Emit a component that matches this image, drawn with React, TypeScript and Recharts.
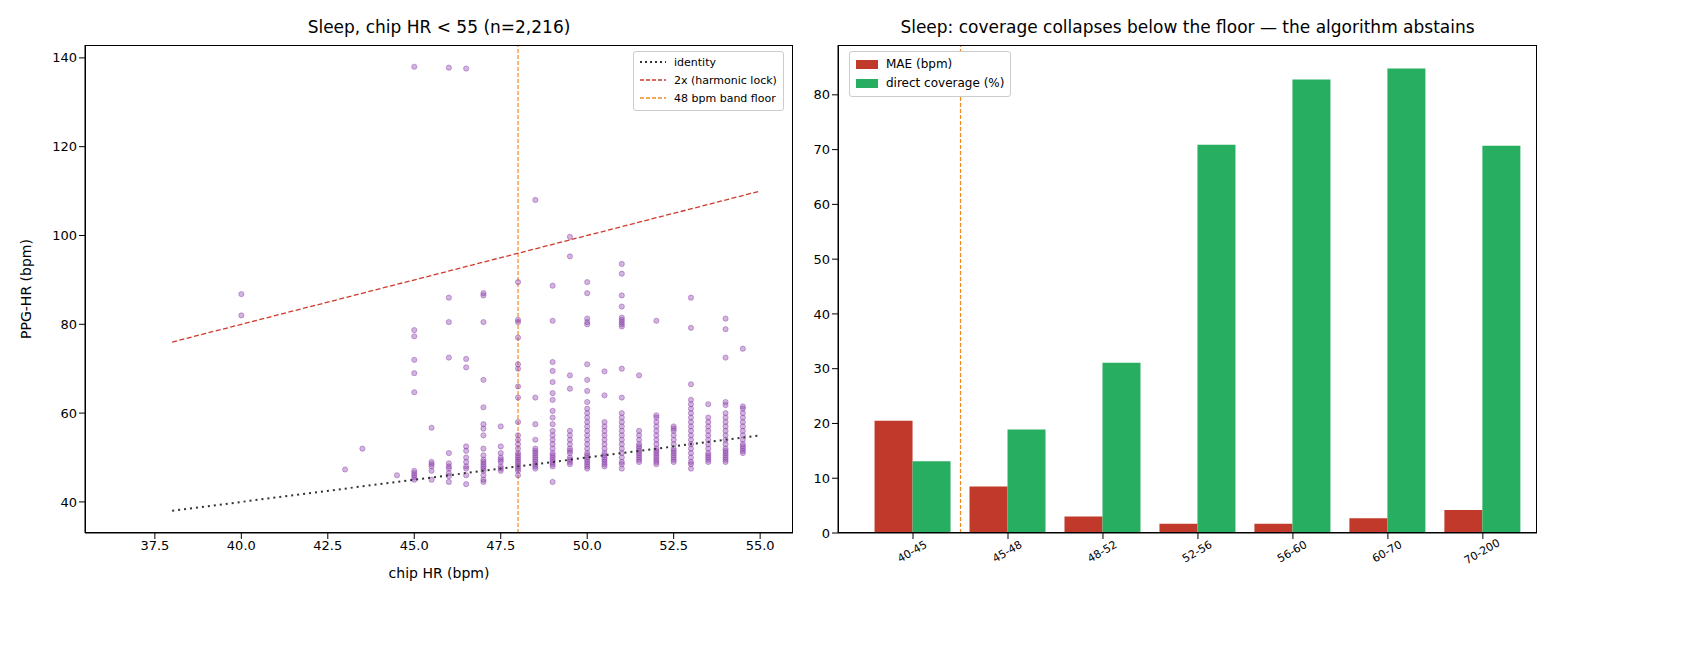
import {
  ScatterChart,
  Scatter,
  XAxis,
  YAxis,
  ReferenceLine,
  BarChart,
  Bar,
} from "recharts";

// chip HR column -> PPG-HR readings
const sleepColumns: [number, number[]][] = [
  [40, [86.8, 82]],
  [43, [47.3]],
  [43.5, [52]],
  [44.5, [46]],
  [45, [138, 78.7, 77.3, 72, 69, 64.7, 47, 46.5, 46, 45.5, 45]],
  [45.5, [56.7, 49, 48.5, 48, 47, 45]],
  [46, [137.8, 86, 80.5, 72.5, 51, 48.7, 48, 47.5, 46.5, 45.8, 44.5]],
  [46.5, [137.6, 72.2, 70.3, 52.5, 51.5, 50, 49, 48, 47.5, 46, 44]],
  [47, [87, 86.5, 80.5, 67.5, 61.3, 57.5, 56.5, 55, 52, 50.5, 49.5, 49, 48.5, 48, 47.5, 47, 46, 45, 44.5]],
  [47.5, [57, 52.5, 51, 50, 49.5, 49, 48, 47.5, 47]],
  [48, [89.5, 81, 80.5, 77, 71, 70, 66, 63.5, 58, 55, 54, 53, 52, 51, 50.5, 50, 49.5, 49, 48.5, 48, 47.5, 47, 46]],
  [48.5, [108, 63.5, 57.5, 54, 52, 51.5, 51, 50.5, 50, 49.5, 49, 48.5, 48, 47.5]],
  [49, [88.7, 80.8, 71.5, 69.5, 67, 64.5, 63, 60.5, 59, 57.5, 56, 55, 54, 53, 52, 51, 50.5, 50, 49.5, 49, 48.5, 48, 44.5]],
  [49.5, [99.7, 95.3, 68.5, 65.5, 56, 55, 54, 53, 52, 51.5, 51, 50, 49.5, 49, 48.5]],
  [50, [89.5, 87, 81.3, 80.5, 80, 71, 67.5, 65, 62.5, 61, 60, 59, 58, 57, 56, 55, 54, 53, 52, 51, 50.5, 50, 49.5, 49, 48.5, 48, 47.5]],
  [50.5, [69.4, 64, 58, 57, 56, 55, 54, 53, 52, 51, 50.5, 50, 49.5, 49, 48.5, 48]],
  [51, [93.6, 91.4, 86.5, 84, 81.5, 81, 80.5, 80, 79.5, 70, 63.5, 60, 59, 58, 57, 56, 55, 54, 53, 52, 51, 50, 49, 48.5, 47.5]],
  [51.5, [68.5, 56, 55, 54, 53, 52.5, 52, 51.5, 51, 50.5, 50, 49.5, 49]],
  [52, [80.8, 59.5, 59, 58, 57, 56, 55, 54, 53, 52, 51.5, 51, 50.5, 50, 49.5, 49, 48.5]],
  [52.5, [57, 56.5, 56, 55, 54, 53, 52, 51.5, 51, 50.5, 50, 49.5, 49]],
  [53, [86, 79.2, 66.5, 63, 62, 61, 60, 59, 58, 57, 56, 55, 54, 53, 52, 51, 50, 49, 48.5, 47.5]],
  [53.5, [62, 59, 58, 57, 56, 55, 54, 53, 52, 51, 50.5, 50, 49.5, 49]],
  [54, [81.3, 78.9, 72.5, 62.5, 61.8, 60, 59, 58, 57, 56, 55, 54, 53, 52, 51.5, 51, 50.5, 50, 49.5, 49]],
  [54.5, [74.5, 61.5, 61, 60, 59, 58, 57, 56, 55, 54, 53, 52.5, 52, 51.5, 51]],
];

const identityLine = [
  { x: 38, y: 38 },
  { x: 55, y: 55 },
];
const harmonicLine = [
  { x: 38, y: 76 },
  { x: 55, y: 110 },
];
const xTicks = [37.5, 40, 42.5, 45, 47.5, 50, 52.5, 55];
const yTicks = [40, 60, 80, 100, 120, 140];

const bands = ["40-45", "45-48", "48-52", "52-56", "56-60", "60-70", "70-200"];
const mae = [20.5, 8.5, 3.0, 1.7, 1.7, 2.7, 4.2];
const coverage = [13.1, 18.9, 31.1, 70.9, 82.8, 84.8, 70.7];
const barTicks = [0, 10, 20, 30, 40, 50, 60, 70, 80];

const points = sleepColumns.flatMap(([x, ys]) => ys.map((y) => ({ x, y })));
const barData = bands.map((band, i) => ({ idx: i, band, mae: mae[i], coverage: coverage[i] }));

const font = "DejaVu Sans, sans-serif";
const tick = { fill: "#000", fontSize: 13, fontFamily: font };

const Dot = (p: any) => (
  <circle cx={p.cx} cy={p.cy} r={2.6} fill="#8e44ad" fillOpacity={0.4} stroke="#8e44ad" strokeOpacity={0.45} />
);

function Swatch({ kind, color }: { kind: string; color: string }) {
  if (kind === "box") return <span style={{ display: "inline-block", width: 22, height: 9, background: color, marginRight: 8 }} />;
  return (
    <svg width={26} height={8} style={{ marginRight: 8 }}>
      <line x1={0} y1={4} x2={26} y2={4} stroke={color} strokeWidth={kind === "dot" ? 2 : 1.3} strokeDasharray={kind === "dot" ? "2 3" : "4 2"} />
    </svg>
  );
}

export default function App() {
  return (
    <div style={{ position: "absolute", left: 0, top: 0, width: 1690, height: 650, background: "#fff", fontFamily: font }}>
      <div style={{ position: "absolute", left: 85, width: 708, top: 17, textAlign: "center", fontSize: 17 }}>
        Sleep, chip HR &lt; 55 (n=2,216)
      </div>
      <div style={{ position: "absolute", left: 838, width: 699, top: 17, textAlign: "center", fontSize: 17 }}>
        Sleep: coverage collapses below the floor — the algorithm abstains
      </div>
      <div style={{ position: "absolute", left: 85, width: 708, top: 565, textAlign: "center", fontSize: 14 }}>chip HR (bpm)</div>
      <div style={{ position: "absolute", left: 26, top: 289, fontSize: 14, transform: "translate(-50%,-50%) rotate(-90deg)", whiteSpace: "nowrap" }}>
        PPG-HR (bpm)
      </div>

      <div style={{ position: "absolute", left: 0, top: 0 }}>
        <ScatterChart width={800} height={600} margin={{ top: 45, right: 7, bottom: 17, left: 0 }}>
          <XAxis type="number" dataKey="x" domain={[35.48, 55.95]} ticks={xTicks} tickFormatter={(v: number) => v.toFixed(1)}
            height={50} tick={tick} stroke="#000" allowDataOverflow />
          <YAxis type="number" dataKey="y" domain={[33, 142.9]} ticks={yTicks} width={85} tick={tick} stroke="#000" allowDataOverflow />
          <Scatter data={points} shape={Dot} isAnimationActive={false} />
          <Scatter data={identityLine} line={{ stroke: "#333", strokeWidth: 2, strokeDasharray: "2 4" }} shape={() => null} isAnimationActive={false} />
          <Scatter data={harmonicLine} line={{ stroke: "#d0392b", strokeWidth: 1.3, strokeDasharray: "5 2.5" }} shape={() => null} isAnimationActive={false} />
          <ReferenceLine x={48} stroke="#f08a24" strokeWidth={1.2} strokeDasharray="4 2" />
        </ScatterChart>
      </div>
      <div style={{ position: "absolute", left: 85, top: 45, width: 708, height: 488, border: "1px solid #000", boxSizing: "border-box", pointerEvents: "none" }} />
      <div style={{ position: "absolute", left: 633, top: 51, border: "1px solid #ccc", borderRadius: 3, padding: "2px 6px", fontSize: 11, lineHeight: "18px", background: "rgba(255,255,255,0.8)" }}>
        <div><Swatch kind="dot" color="#333" />identity</div>
        <div><Swatch kind="dash" color="#d0392b" />2x (harmonic lock)</div>
        <div><Swatch kind="dash" color="#f08a24" />48 bpm band floor</div>
      </div>

      <div style={{ position: "absolute", left: 778, top: 0 }}>
        <BarChart width={912} height={600} data={barData} margin={{ top: 45, right: 153, bottom: 17, left: 0 }}
          barSize={38} barGap={0}>
          <XAxis dataKey="idx" type="number" domain={[-0.79, 6.57]} ticks={[0, 1, 2, 3, 4, 5, 6]} allowDataOverflow
            height={50} stroke="#000" interval={0}
            tick={(p: any) => (
              <text x={p.x} y={p.y + 14} textAnchor="middle" fontSize={11} fontFamily={font} transform={`rotate(-30 ${p.x} ${p.y + 12})`}>
                {bands[p.payload.value]}
              </text>
            )} />
          <YAxis domain={[0, 89.1]} ticks={barTicks} width={60} tick={tick} stroke="#000" allowDataOverflow />
          <Bar dataKey="mae" fill="#c0392b" isAnimationActive={false} />
          <Bar dataKey="coverage" fill="#27ae60" isAnimationActive={false} />
          <ReferenceLine x={0.5} stroke="#f08a24" strokeWidth={1.2} strokeDasharray="4 2" />
        </BarChart>
      </div>
      <div style={{ position: "absolute", left: 838, top: 45, width: 699, height: 488, border: "1px solid #000", boxSizing: "border-box", pointerEvents: "none" }} />
      <div style={{ position: "absolute", left: 849, top: 51, border: "1px solid #ccc", borderRadius: 3, padding: "3px 6px", fontSize: 12, lineHeight: "19px", background: "#fff" }}>
        <div style={{ display: "flex", alignItems: "center" }}><Swatch kind="box" color="#c0392b" />MAE (bpm)</div>
        <div style={{ display: "flex", alignItems: "center" }}><Swatch kind="box" color="#27ae60" />direct coverage (%)</div>
      </div>
    </div>
  );
}
